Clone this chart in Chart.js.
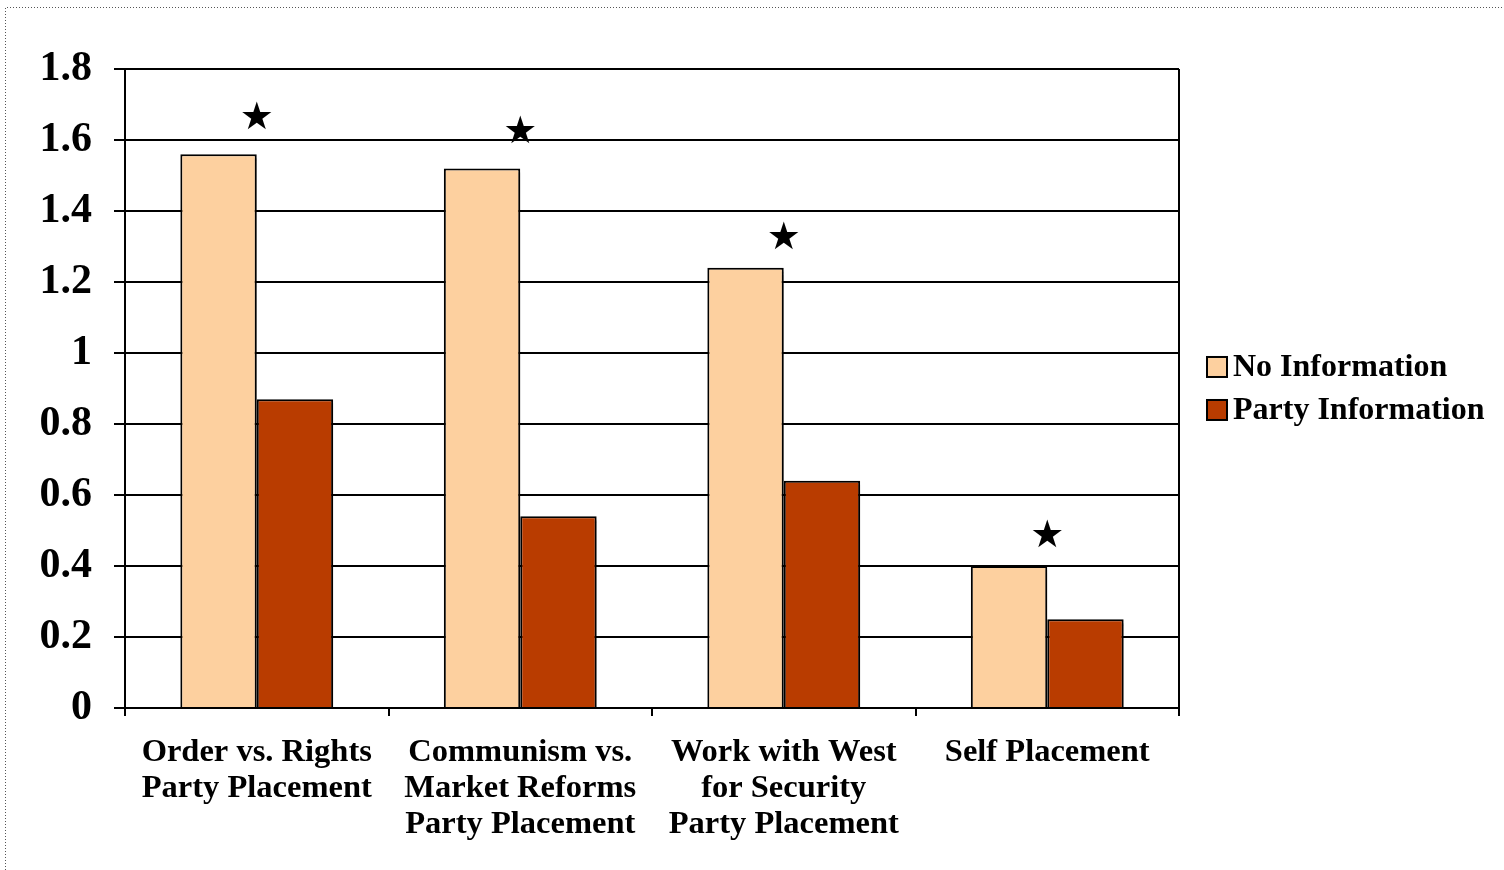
<!DOCTYPE html>
<html>
<head>
    <title>Placement Differences</title>
    <script src="https://cdn.jsdelivr.net/npm/chart.js"></script>
    <style>
        body { margin: 0; background: #fff; }
    </style>
</head>
<body>
    <canvas id="placementChart" width="1504" height="870"></canvas>

    <script>
        // Chart data
        const categories = [
            ['Order vs. Rights', 'Party Placement'],
            ['Communism vs.', 'Market Reforms', 'Party Placement'],
            ['Work with West', 'for Security', 'Party Placement'],
            ['Self Placement']
        ];
        const noInformation = [1.56, 1.52, 1.24, 0.40];
        const partyInformation = [0.87, 0.54, 0.64, 0.25];
        // significance markers, drawn above each group
        const starLevels = [1.66, 1.62, 1.32, 0.48];
        const yTickStep = 0.2;
        const yMax = 1.8;

        const serif = "'Liberation Serif', 'Times New Roman', serif";

        // dotted frame round the figure
        const framePlugin = {
            id: 'frame',
            beforeDraw(chart) {
                const ctx = chart.ctx;
                ctx.save();
                ctx.strokeStyle = '#555';
                ctx.lineWidth = 1;
                ctx.setLineDash([1, 2]);
                ctx.beginPath();
                ctx.moveTo(5.5, chart.height);
                ctx.lineTo(5.5, 7.5);
                ctx.lineTo(chart.width, 7.5);
                ctx.stroke();
                ctx.restore();
            }
        };

        // grey drop shadow behind the bars
        const shadowPlugin = {
            id: 'barShadow',
            beforeDatasetsDraw(chart) {
                const ctx = chart.ctx;
                ctx.save();
                ctx.shadowColor = 'rgba(0, 0, 0, 0.25)';
                ctx.shadowOffsetX = 5;
                ctx.shadowOffsetY = 4;
                ctx.shadowBlur = 1;
            },
            afterDatasetsDraw(chart) {
                chart.ctx.restore();
            }
        };

        // right edge of the plot area, the stars and the legend
        const markPlugin = {
            id: 'marks',
            afterDraw(chart) {
                const ctx = chart.ctx;
                const area = chart.chartArea;
                const x = chart.scales.x;
                const y = chart.scales.y;
                ctx.save();
                ctx.strokeStyle = '#000';
                ctx.lineWidth = 2;
                ctx.beginPath();
                ctx.moveTo(area.right, area.top);
                ctx.lineTo(area.right, area.bottom + 8);
                ctx.stroke();

                ctx.fillStyle = '#000';
                ctx.font = "38px 'DejaVu Sans'";
                ctx.textAlign = 'center';
                ctx.textBaseline = 'middle';
                starLevels.forEach((v, i) => {
                    ctx.fillText('\u2605', x.getPixelForValue(i), y.getPixelForValue(v));
                });

                // legend, tight box-to-text spacing
                const sets = chart.data.datasets;
                const rowGap = 43;
                const lx = area.right + 28;
                let ly = (area.top + area.bottom) / 2 - rowGap * (sets.length - 1) / 2;
                ctx.font = 'bold 32px ' + serif;
                ctx.textAlign = 'left';
                sets.forEach(ds => {
                    ctx.fillStyle = ds.backgroundColor;
                    ctx.fillRect(lx, ly - 10, 20, 20);
                    ctx.lineWidth = 2;
                    ctx.strokeStyle = '#000';
                    ctx.strokeRect(lx, ly - 10, 20, 20);
                    ctx.fillStyle = '#000';
                    ctx.fillText(ds.label, lx + 26, ly + 1);
                    ly += rowGap;
                });
                ctx.restore();
            }
        };

        const ctx = document.getElementById('placementChart').getContext('2d');
        new Chart(ctx, {
            type: 'bar',
            data: {
                labels: categories,
                datasets: [{
                    label: 'No Information',
                    data: noInformation,
                    backgroundColor: '#fdd09f',
                    borderColor: '#000',
                    borderWidth: 2,
                    categoryPercentage: 0.58,
                    barPercentage: 1.0
                }, {
                    label: 'Party Information',
                    data: partyInformation,
                    backgroundColor: '#b93c00',
                    borderColor: '#000',
                    borderWidth: 2,
                    categoryPercentage: 0.58,
                    barPercentage: 1.0
                }]
            },
            options: {
                responsive: false,
                animation: false,
                layout: {
                    padding: { left: 40, top: 69, right: 325, bottom: 8 }
                },
                plugins: {
                    tooltip: { enabled: false },
                    legend: { display: false }
                },
                scales: {
                    x: {
                        grid: {
                            drawOnChartArea: false,
                            color: '#000',
                            lineWidth: 2,
                            tickLength: 8
                        },
                        border: { color: '#000', width: 2 },
                        ticks: {
                            color: '#000',
                            padding: 19,
                            maxRotation: 0,
                            font: { family: serif, size: 32.5, weight: 'bold', lineHeight: 1.108 }
                        }
                    },
                    y: {
                        min: 0,
                        max: yMax,
                        afterFit(scale) { scale.width = 85; },
                        grid: {
                            color: '#000',
                            lineWidth: 2,
                            tickLength: 11
                        },
                        border: { color: '#000', width: 2 },
                        ticks: {
                            stepSize: yTickStep,
                            color: '#000',
                            padding: 22,
                            font: { family: serif, size: 42, weight: 'bold' },
                            callback: v => String(Number(v.toFixed(1)))
                        }
                    }
                }
            },
            plugins: [framePlugin, shadowPlugin, markPlugin]
        });
    </script>
</body>
</html>
